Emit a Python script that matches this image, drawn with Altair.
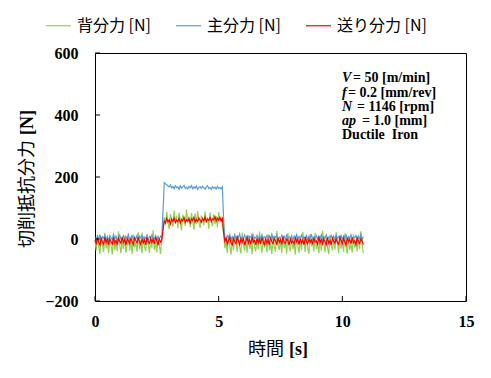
import altair as alt
import pandas as pd

# ---------------- data ----------------
series_names = ["背分力 [N]", "主分力 [N]", "送り分力 [N]"]
series_colors = ["#92D050", "#5B9BD5", "#FF0000"]
time_step = 0.05  # sampling interval of the lists below [s]
x_ticks = [0, 5, 10, 15]
y_ticks = [-200, 0, 200, 400, 600]

# 背分力 (back force)
back_force = [
    -5, -38, 12, -25, -48, 8, -15, -42, 20, -30, -10, -45, 5, -22, -50, 15, -35, -8, -40, 25,
    -20, -46, 0, -32, 10, -44, -18, 18, -38, -6, -49, 14, -27, -12, -41, 22, -33, -3, -47, 9,
    -24, -39, 16, -15, -45, 4, -29, 28, -36, -9, -43, 11, -21, -48, 6,
    30,
    70, 45, 88, 55, 32, 80, 62, 40, 92, 50, 75, 35, 85, 58, 28, 78, 66, 42, 95, 52,
    72, 38, 84, 60, 30, 82, 48, 90, 56, 36, 76, 64, 44, 89, 53, 70, 33, 86, 59, 41,
    80, 49, 74, 37, 87, 57, 68, 46,
    20,
    -30, -8, -45, 10, -22, -50, 3, -36, 18, -14, -42, 7, -27, -47, 21, -19, -38, -2, -44, 13,
    -31, -11, -49, 17, -25, -40, 2, -34, 24, -16, -46, 8, -28, -6, -43, 15, -37, -13, -48, 11,
    -23, -41, 26, -18, -35, -1, -45, 12, -30, -9, -47, 19, -26, -39, 5, -33, -15, -50, 14, -21,
    -44, 1, -36, 23, -12, -42, 9, -29, -48, 16, -24, -7, -40, 20, -32, -17, -46, 6, -38, 27,
    -14, -43, 3, -27, -49, 13, -20, -37, 0, -34, 22, -11, -45, 10, -31, -4, -41, 18, -25, -47,
    7, -35, -16, -44, 15, -28, -8, -39, 4, -33, 25, -19, -46,
]

# 主分力 (main / cutting force)
main_force = [
    5, -4, 10, 0, 14, -6, 7, 2, 12, -3, 8, -8, 11, 4, -2, 15, 1, 9, -5, 6,
    13, -1, 3, 10, -7, 8, 2, 14, -4, 5, 11, -2, 7, 0, 12, -6, 9, 3, 15, -3,
    6, 1, 10, -5, 8, 4, 13, -1, 2, 11, -7, 7, 0, 9, 3,
    90,
    182, 178, 175, 171, 168, 174, 165, 170, 162, 172, 166, 169, 160, 171, 164, 168, 173, 163, 167, 161,
    170, 165, 172, 162, 168, 164, 171, 160, 166, 169, 163, 170, 165, 161, 168, 172, 163, 166, 160, 169,
    164, 167, 161, 170, 163, 166, 162, 168,
    60,
    6, -2, 11, 3, 14, -4, 8, 1, 12, -1, 9, 4, 16, -3, 7, 2, 13, 0, 10, -5,
    8, 5, 15, -2, 6, 3, 12, -4, 9, 1, 14, 0, 7, 4, 11, -3, 10, 2, 16, -1,
    8, 5, 13, -4, 6, 1, 12, 3, 9, -2, 15, 0, 7, 4, 11, -5, 10, 2, 14, -1,
    8, 3, 13, 0, 6, 5, 12, -3, 9, 1, 16, -2, 7, 4, 11, 0, 10, 2, 14, -4,
    8, 3, 13, -1, 6, 5, 12, 0, 9, -3, 15, 1, 7, 4, 11, -2, 10, 3, 13, -1,
    8, 2, 14, 0, 6, 5, 12, -4, 9, 1, 15, -2, 7,
]

# 送り分力 (feed force)
feed_force = [
    -3, -15, 4, -10, -20, 2, -8, -17, 6, -12, -1, -19, 0, -9, -16, 5, -13, -4, -18, 3,
    -7, -14, 7, -11, -2, -20, 1, -6, -15, 4, -10, -18, 2, -5, -13, 6, -9, -17, 0, -12,
    -3, -19, 5, -8, -14, 3, -11, -1, -16, 7, -7, -20, 2, -10, -4,
    30,
    58, 52, 66, 55, 62, 49, 64, 57, 68, 53, 61, 56, 67, 51, 63, 59, 69, 54, 62, 58,
    66, 52, 65, 60, 70, 55, 63, 57, 68, 61, 54, 66, 59, 71, 56, 64, 60, 69, 57, 65,
    62, 72, 58, 67, 61, 70, 59, 66,
    20,
    -8, 2, -16, -4, 5, -13, -19, 1, -9, -15, 6, -6, -18, 0, -11, 3, -20, -7, 4, -14,
    -2, -17, 7, -10, -5, -19, 2, -12, -1, -16, 5, -8, -20, 3, -13, -3, -18, 6, -9, -15,
    1, -6, -19, 4, -11, -2, -17, 7, -10, -14, 0, -5, -20, 3, -12, -7, -16, 5, -9, -1,
    -18, 2, -13, -4, -19, 6, -8, -15, 0, -11, -3, -17, 4, -10, -6, -20, 7, -12, -2, -16,
    1, -9, -18, 5, -14, -5, -19, 3, -7, -13, 0, -11, -17, 6, -4, -15, 2, -10, -20, 4,
    -8, -1, -16, 5, -12, -6, -18, 3, -9, -14, 1, -7, -19,
]

ann_vars = ["V", "f", "N", "ap"]
ann_rest = ["= 50 [m/min]", "= 0.2 [mm/rev]", "= 1146 [rpm]", "= 1.0 [mm]"]
ann_last = "Ductile\u00a0 Iron"

# ---------------- chart ----------------
W, H = 371, 248
serif = "Liberation Serif"
cjk = "Noto Sans CJK JP"

xs = alt.Scale(domain=[0, 15], nice=False, zero=False)
ys = alt.Scale(domain=[-200, 600], nice=False, zero=False)
cs = alt.Scale(domain=series_names, range=series_colors)

x_axis = alt.Axis(values=x_ticks, title=None, grid=False, ticks=False, tickSize=0, domain=False,
                  labelFont=serif, labelFontWeight="bold", labelFontSize=16, labelColor="black",
                  labelPadding=12, labelFlush=False)
y_axis = alt.Axis(values=y_ticks, title=None, grid=False, ticks=False, tickSize=0, domain=False,
                  labelFont=serif, labelFontWeight="bold", labelFontSize=16, labelColor="black",
                  labelPadding=17)
legend = alt.Legend(title=None, orient="none", legendX=-50, legendY=-41, direction="horizontal",
                    columns=3, symbolType="stroke", symbolSize=625, symbolStrokeWidth=1.2,
                    labelFont=cjk, labelFontSize=16, labelColor="black", labelOffset=5,
                    columnPadding=22, padding=0, labelLimit=300)


def frame(name, vals):
    return pd.DataFrame({"t": [round(i * time_step, 4) for i in range(len(vals))],
                         "F": vals, "s": name})


def line_layer(name, vals):
    return alt.Chart(frame(name, vals)).mark_line(strokeWidth=1.2).encode(
        x=alt.X("t:Q", scale=xs, axis=x_axis),
        y=alt.Y("F:Q", scale=ys, axis=y_axis),
        color=alt.Color("s:N", scale=cs, legend=legend),
    )


lines = [line_layer(n, v) for n, v in zip(series_names, [back_force, main_force, feed_force])]

ytick_layer = alt.Chart(pd.DataFrame({"F": y_ticks})).mark_rule(color="black", strokeWidth=1).encode(
    y=alt.Y("F:Q", scale=ys, axis=y_axis), x=alt.value(0), x2=alt.value(5))
xtick_layer = alt.Chart(pd.DataFrame({"t": x_ticks})).mark_rule(color="black", strokeWidth=1).encode(
    x=alt.X("t:Q", scale=xs, axis=x_axis), y=alt.value(H), y2=alt.value(H - 5))


def txt(s, x, y, font, size, weight="normal", style="normal", angle=0):
    return alt.Chart(alt.Data(values=[{}])).mark_text(
        align="left", baseline="middle", font=font, fontSize=size, fontWeight=weight,
        fontStyle=style, angle=angle, color="black"
    ).encode(x=alt.value(x), y=alt.value(y), text=alt.value(s))


texts = []
var_x = 247
rest_x = [258, 253, 262, 267]
line_y = [25, 40, 54, 68]
for v, r, rx, ly in zip(ann_vars, ann_rest, rest_x, line_y):
    texts.append(txt(v, var_x, ly, serif, 14, "bold", "italic"))
    texts.append(txt(r, rx, ly, serif, 14, "bold"))
texts.append(txt(ann_last, var_x, 82, serif, 14, "bold"))

# axis titles (mixed fonts)
texts.append(txt("時間", 153, 297, cjk, 18))
texts.append(txt("[s]", 194, 297, serif, 18, "bold"))
texts.append(txt("切削抵抗分力", -67, 195, cjk, 18, angle=270))
texts.append(txt("[N]", -67, 82, serif, 18, "bold", angle=270))

chart = alt.layer(*lines, ytick_layer, xtick_layer, *texts).properties(
    width=W, height=H,
    autosize=alt.AutoSizeParams(type="none"),
    padding={"left": 95, "top": 53, "right": 25, "bottom": 77},
    background="white",
).configure_view(stroke="black", strokeWidth=1)

chart.save("out.html", embed_options={"renderer": "svg", "actions": False})
